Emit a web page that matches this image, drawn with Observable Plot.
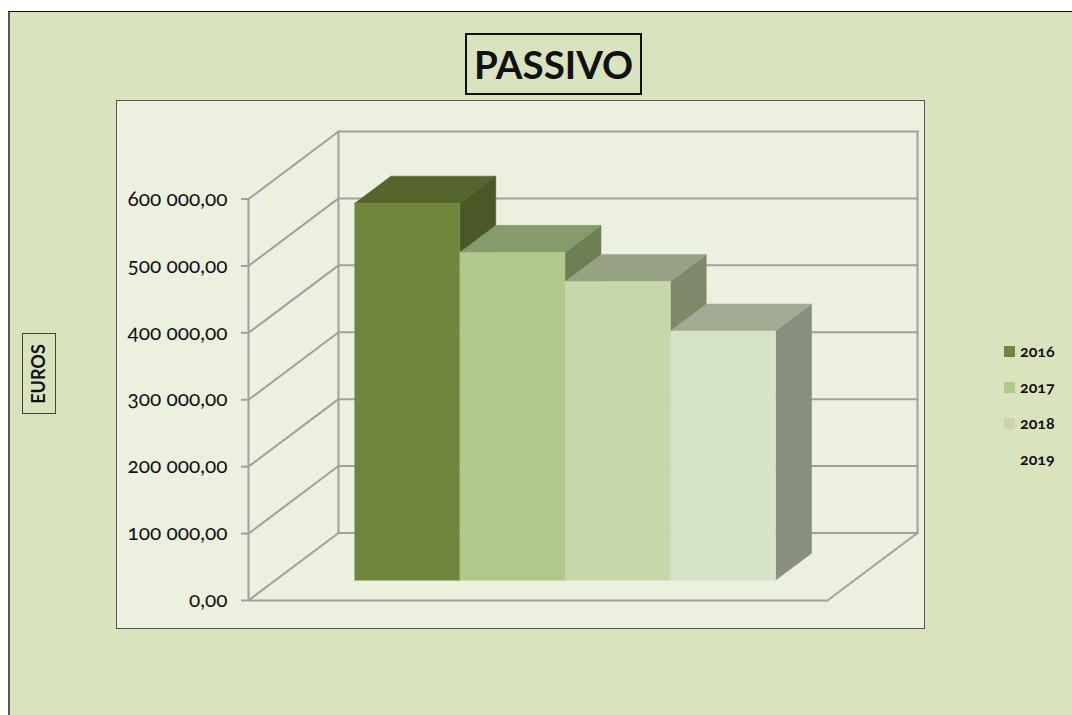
<!DOCTYPE html>
<html>
<head>
<meta charset="utf-8">
<script src="https://cdn.jsdelivr.net/npm/d3@7"></script>
<script src="https://cdn.jsdelivr.net/npm/@observablehq/plot@0.6"></script>
<style>
html,body{margin:0;padding:0;background:#fff;overflow:hidden}
#page{position:relative;width:1072px;height:715px;overflow:hidden;font-family:Lato,sans-serif;color:#111}
#page div{position:absolute;box-sizing:border-box}
#outer{left:8px;top:11px;width:1080px;height:720px;background:#d9e3bd;border-left:2px solid #555;border-top:1px solid #111}
#panel{left:116px;top:100px;width:809px;height:529px;background:#ebf0df;border:1.5px solid #555}
#title{left:465px;top:33px;width:177px;height:62px;border:2px solid #111;font:700 38.5px Lato,sans-serif;line-height:58px;text-align:center}
#ytitle{left:22px;top:333px;width:34px;height:81px;border:1px solid #444;}
#ytitle span{position:absolute;left:48%;top:50%;transform:translate(-50%,-50%) rotate(-90deg);font:700 18px Lato,sans-serif;white-space:nowrap}
.sw{left:1004px;width:11px;height:11px}
.lb{left:1020px;font:700 16px Lato,sans-serif;line-height:18px;font-variant-numeric:oldstyle-nums}
#plot{left:117px;top:100px}
#plot svg{background:transparent;display:block;overflow:visible}
#plot text, #plot g{font-variant-numeric:oldstyle-nums !important;font-feature-settings:"onum" !important}
</style>
</head>
<body>
<div id="page">
  <div id="outer"></div>
  <div id="panel"></div>
  <div id="title">PASSIVO</div>
  <div id="ytitle"><span>EUROS</span></div>
  <div id="plot"></div>
  <div id="legend"></div>
</div>
<script>
// Data
const years = ["2016", "2017", "2018", "2019"];
const passivo = [563500, 490000, 446500, 372500];
const yTicks = [0, 100000, 200000, 300000, 400000, 500000, 600000];

// Styles
const frontColors = ["#70863c", "#b0c98a", "#c8d6ab", "#d7e3c7"];
const topColors = ["#55652d", "#859b6a", "#98a384", "#a3ab95"];
const sideColors = ["#4a5825", "#6f7f55", "#7e8a6a", "#888f7e"];
const wallColor = "#a0a0a0";

// Pseudo-3D projection in data units: a step back in depth shifts x and value
const depthX = 0.855, depthY = 100900;
const floorW = 5.5, barStart = 0.75, barBase = 0.3, barDepth = 0.4;
const P = (x, v, d) => ({x: x + d * depthX, y: v + d * depthY});
const poly = (pts, fill) => Plot.line(pts, {x: "x", y: "y", fill, stroke: fill, strokeWidth: 0.5});
const wallLine = (pts, w = 2) => Plot.line(pts, {x: "x", y: "y", stroke: wallColor, strokeWidth: w});

const maxTick = yTicks[yTicks.length - 1];
const wallMarks = [
  wallLine([P(0, 0, 0), P(0, maxTick, 0)]),
  wallLine([P(0, 0, 1), P(0, maxTick, 1)]),
  wallLine([P(floorW, 0, 1), P(floorW, maxTick, 1)]),
  wallLine([P(0, 0, 0), P(floorW, 0, 0), P(floorW, 0, 1)]),
  ...yTicks.map(v => wallLine([P(0, v, 0), P(0, v, 1), P(floorW, v, 1)]))
];

const barMarks = years.flatMap((_, i) => {
  const x0 = barStart + i, x1 = x0 + 1, v = passivo[i];
  const a = barBase, b = barBase + barDepth;
  return [
    poly([P(x1, 0, a), P(x1, 0, b), P(x1, v, b), P(x1, v, a)], sideColors[i]),
    poly([P(x0, v, a), P(x1, v, a), P(x1, v, b), P(x0, v, b)], topColors[i]),
    poly([P(x0, 0, a), P(x1, 0, a), P(x1, v, a), P(x0, v, a)], frontColors[i])
  ];
});

const fmt = v => d3.format(",.2f")(v).replace(/,/g, " ").replace(".", ",");

const chart = Plot.plot({
  width: 807, height: 528,
  marginLeft: 131, marginRight: 7, marginTop: 31, marginBottom: 28,
  style: {background: "transparent", overflow: "visible"},
  x: {domain: [0, floorW + depthX], axis: null},
  y: {domain: [0, maxTick + depthY], axis: null},
  marks: [
    ...wallMarks,
    ...barMarks,
    Plot.axisY(yTicks, {
      anchor: "left", tickSize: 7, tickPadding: 14,
      tickFormat: fmt, stroke: wallColor, strokeWidth: 2,
      fontSize: 20.8, fontFamily: "Lato, sans-serif", fontVariant: "oldstyle-nums", fill: "#111", label: null
    })
  ]
});
document.getElementById("plot").appendChild(chart);

// Legend
const legend = document.getElementById("legend");
years.forEach((yr, i) => {
  const sw = document.createElement("div");
  sw.className = "sw"; sw.style.top = (346 + i * 36) + "px"; sw.style.background = frontColors[i];
  const lb = document.createElement("div");
  lb.className = "lb"; lb.style.top = (342 + i * 36) + "px"; lb.textContent = yr;
  legend.append(sw, lb);
});
</script>
</body>
</html>
